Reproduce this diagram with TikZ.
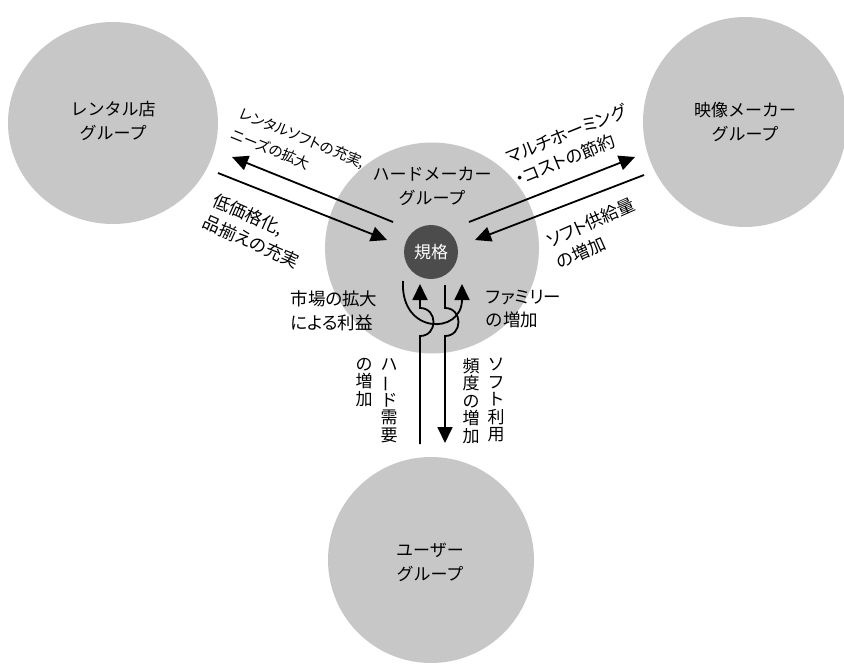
\documentclass[tikz,border=0pt]{standalone}
\usepackage{fontspec}
\setmainfont{Noto Sans CJK JP}
\newfontfamily\pfont[RawFeature=+palt]{Noto Sans CJK JP}
\usetikzlibrary{arrows.meta,shapes.geometric}
\definecolor{grp}{gray}{0.78}
\definecolor{std}{gray}{0.30}
\newcommand\lblfont{\fontsize{17}{24}\selectfont}
\newcommand\plblfont{\pfont\fontsize{17.5}{23.5}\selectfont}
\newcommand\slblfont{\pfont\fontsize{14.5}{22.5}\selectfont}
\newcommand\vfont{\fontsize{17}{17.5}\selectfont}
\newcommand\vbar{\rotatebox[origin=c]{90}{ー}}
\tikzset{
  group/.style={ellipse, fill=grp, draw=none, inner sep=0pt},
  grouptext/.style={align=center, font=\lblfont, inner sep=0pt},
  lab/.style={align=left, font=\plblfont, inner sep=0pt},
  slab/.style={align=left, font=\slblfont, inner sep=0pt},
  vlab/.style={align=center, font=\vfont, inner sep=0pt, anchor=north},
  arr/.style={line width=1.8pt, -{Triangle[length=16pt,width=15pt]}}
}
\begin{document}
\begin{tikzpicture}[x=1pt,y=-1pt]
\useasboundingbox (0,0) rectangle (844,664);
\fill[white] (0,0) rectangle (844,664);

% group circles
\node[group, minimum width=210pt, minimum height=202pt] (rent) at (113,123) {};
\node[group, minimum width=204pt, minimum height=210pt] (video) at (745,122) {};
\node[group, minimum width=214pt, minimum height=211pt] (hard) at (432,248) {};
\node[group, minimum width=206pt, minimum height=206pt] (user) at (431,560) {};
\node[circle, fill=std, minimum size=54pt, inner sep=0pt, text=white, font=\lblfont] (std) at (431,252) {規格};

% group labels
\node[grouptext] (rentT) at (113,121) {レンタル店\\グループ};
\node[grouptext] (videoT) at (745,122) {映像メーカー\\グループ};
\node[grouptext] (hardT) at (432,186) {ハードメーカー\\グループ};
\node[grouptext] (userT) at (430,562) {ユーザー\\グループ};

% left pair of arrows
\coordinate (l1s) at (393,222);
\coordinate (l1e) at (232,157);
\coordinate (l2s) at (218,173);
\coordinate (l2e) at (387,240);
\draw[arr] (l1s) -- (l1e);
\draw[arr] (l2s) -- (l2e);

% right pair of arrows
\coordinate (r1s) at (469,222);
\coordinate (r1e) at (635,157);
\coordinate (r2s) at (644,175);
\coordinate (r2e) at (475,240);
\draw[arr] (r1s) -- (r1e);
\draw[arr] (r2s) -- (r2e);

% loop from the standard back into it
\coordinate (us) at (403,281);
\coordinate (ue) at (462,284);
\draw[arr] (us) .. controls (400,335) and (462,335) .. (ue);

% hard demand (up, with hop)
\coordinate (hb) at (420,444);
\coordinate (ht) at (420,284);
\draw[arr] (hb) -- (420,336) .. controls (438,336) and (438,308) .. (420,308) -- (ht);

% soft usage (down, with hop)
\coordinate (st) at (445,285);
\coordinate (sb) at (445,443);
\draw[arr] (st) -- (445,308) .. controls (463,308) and (463,336) .. (445,336) -- (sb);

% arrow labels
\node[slab, rotate=-22, anchor=west] (t1) at (236,123) {レンタルソフトの充実,\\ニーズの拡大};
\node[lab, rotate=-24, anchor=west] (t2) at (209,210) {低価格化,\\品揃えの充実};
\node[lab, rotate=22, anchor=west] (t3) at (511,169) {マルチホーミング\\・コストの節約};
\node[lab, rotate=24, anchor=west] (t4) at (552,253) {ソフト供給量\\の増加};
\node[lab] (t5) at (334,311) {市場の拡大\\による利益};
\node[lab, anchor=west] (t6) at (486,309) {ファミリー\\の増加};

% vertical labels
\node[vlab] (v1) at (389,358) {ハ\\\vbar\\ド\\需\\要};
\node[vlab] (v2) at (364,358) {の\\増\\加};
\node[vlab] (v3) at (496,358) {ソ\\フ\\ト\\利\\用};
\node[vlab] (v4) at (471,358) {頻\\度\\の\\増\\加};
\end{tikzpicture}
\end{document}
